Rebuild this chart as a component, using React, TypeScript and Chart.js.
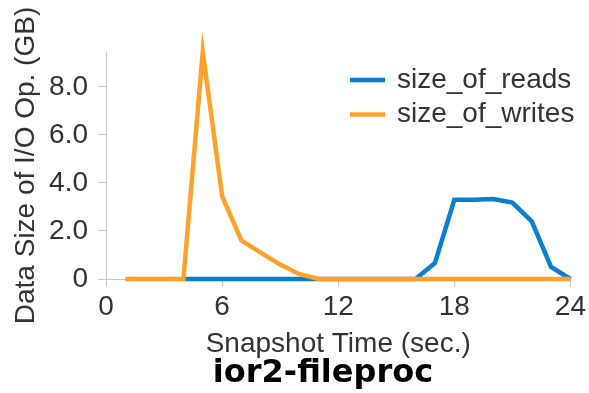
import React, { useEffect, useRef } from "react";
import { Chart, registerables } from "chart.js";

Chart.register(...registerables);

const times = [1, 2, 3, 4, 5, 6, 7, 8, 9, 10, 11, 12, 13, 14, 15, 16, 17, 18, 19, 20, 21, 22, 23, 24];
const sizeOfReads = [null, null, null, 0, 0, 0, 0, 0, 0, 0, 0, 0, 0, 0, 0, 0, 0.67, 3.3, 3.3, 3.33, 3.18, 2.4, 0.5, 0];
const sizeOfWrites = [0, 0, 0, 0, 9.45, 3.45, 1.6, 1.1, 0.6, 0.2, 0, 0, 0, 0, 0, 0, 0, 0, 0, 0, 0, 0, 0, 0];
const xTicks = [0, 6, 12, 18, 24];
const yTicks = [0, 2, 4, 6, 8];
const seriesNames = ["size_of_reads", "size_of_writes"];
const seriesColors = ["#0a7fd2", "#ffa12b"];
const chartTitle = "ior2-fileproc";
const xTitle = "Snapshot Time (sec.)";
const yTitle = "Data Size of I/O Op. (GB)";

const FONT = "'Liberation Sans', Arial, sans-serif";
const TEXT = "#333333";
const AXIS = "#c8c8c8";

const overlayPlugin = {
  id: "overlay",
  afterDraw(chart: any) {
    const ctx = chart.ctx;
    ctx.save();
    // legend
    chart.data.datasets.forEach((ds: any, i: number) => {
      const y = 80 + i * 34.5;
      ctx.strokeStyle = ds.borderColor;
      ctx.lineWidth = 4.5;
      ctx.beginPath();
      ctx.moveTo(350, y);
      ctx.lineTo(385, y);
      ctx.stroke();
      ctx.fillStyle = TEXT;
      ctx.font = `28px ${FONT}`;
      ctx.textBaseline = "middle";
      ctx.textAlign = "left";
      ctx.fillText(ds.label, 397, y);
    });
    // bottom title
    ctx.fillStyle = "#000";
    ctx.font = `bold 32px 'DejaVu Sans', sans-serif`;
    ctx.textAlign = "center";
    ctx.textBaseline = "alphabetic";
    ctx.fillText(chartTitle, 323, 382);
    ctx.restore();
  },
};

export default function App() {
  const ref = useRef<HTMLCanvasElement | null>(null);
  useEffect(() => {
    document.body.style.margin = "0";
    const canvas = ref.current!;
    const chart = new Chart(canvas, {
      type: "line",
      data: {
        labels: times,
        datasets: [
          {
            label: seriesNames[0],
            data: times.map((t, i) => ({ x: t, y: sizeOfReads[i] })),
            borderColor: seriesColors[0],
            backgroundColor: seriesColors[0],
            borderWidth: 4.5,
            pointRadius: 0,
            borderJoinStyle: "miter",
            tension: 0,
            clip: false,
            order: 1,
            spanGaps: false,
          },
          {
            label: seriesNames[1],
            data: times.map((t, i) => ({ x: t, y: sizeOfWrites[i] })),
            borderColor: seriesColors[1],
            backgroundColor: seriesColors[1],
            borderWidth: 4.5,
            pointRadius: 0,
            borderJoinStyle: "miter",
            tension: 0,
            clip: false,
            order: 0,
          },
        ] as any,
      },
      options: {
        animation: false,
        responsive: false,
        maintainAspectRatio: false,
        layout: { padding: { top: 52, right: 17, left: 0, bottom: 0 } },
        plugins: {
          legend: { display: false },
          tooltip: { enabled: false },
          title: { display: false },
        },
        scales: {
          x: {
            type: "linear",
            min: 0,
            max: 24,
            afterBuildTicks: (s: any) => {
              s.ticks = xTicks.map((v) => ({ value: v }));
            },
            afterFit: (s: any) => {
              s.height = 114;
            },
            ticks: {
              font: { family: FONT, size: 28 },
              color: TEXT,
              padding: 3,
              maxRotation: 0,
              callback: (v: any) => String(v),
            },
            grid: { drawOnChartArea: false, drawTicks: true, tickLength: 8, color: AXIS },
            border: { display: true, color: AXIS, width: 1 },
            title: {
              display: true,
              text: xTitle,
              font: { family: FONT, size: 28 },
              color: TEXT,
              padding: { top: 0, bottom: 32 },
            },
          },
          y: {
            type: "linear",
            min: 0,
            max: 9.45,
            afterBuildTicks: (s: any) => {
              s.ticks = yTicks.map((v) => ({ value: v }));
            },
            afterFit: (s: any) => {
              s.width = 106;
            },
            ticks: {
              font: { family: FONT, size: 28 },
              color: TEXT,
              padding: 10,
              callback: (v: any) => (v === 0 ? "0" : Number(v).toFixed(1)),
            },
            grid: { drawOnChartArea: false, drawTicks: true, tickLength: 8, color: AXIS },
            border: { display: true, color: AXIS, width: 1 },
            title: {
              display: true,
              text: yTitle,
              font: { family: FONT, size: 28 },
              color: TEXT,
              padding: { top: 9, bottom: 0 },
            },
          },
        },
      } as any,
      plugins: [overlayPlugin],
    });
    return () => chart.destroy();
  }, []);
  return (
    <div style={{ width: 589, height: 393 }}>
      <canvas ref={ref} width={589} height={393} style={{ display: "block" }} />
    </div>
  );
}
